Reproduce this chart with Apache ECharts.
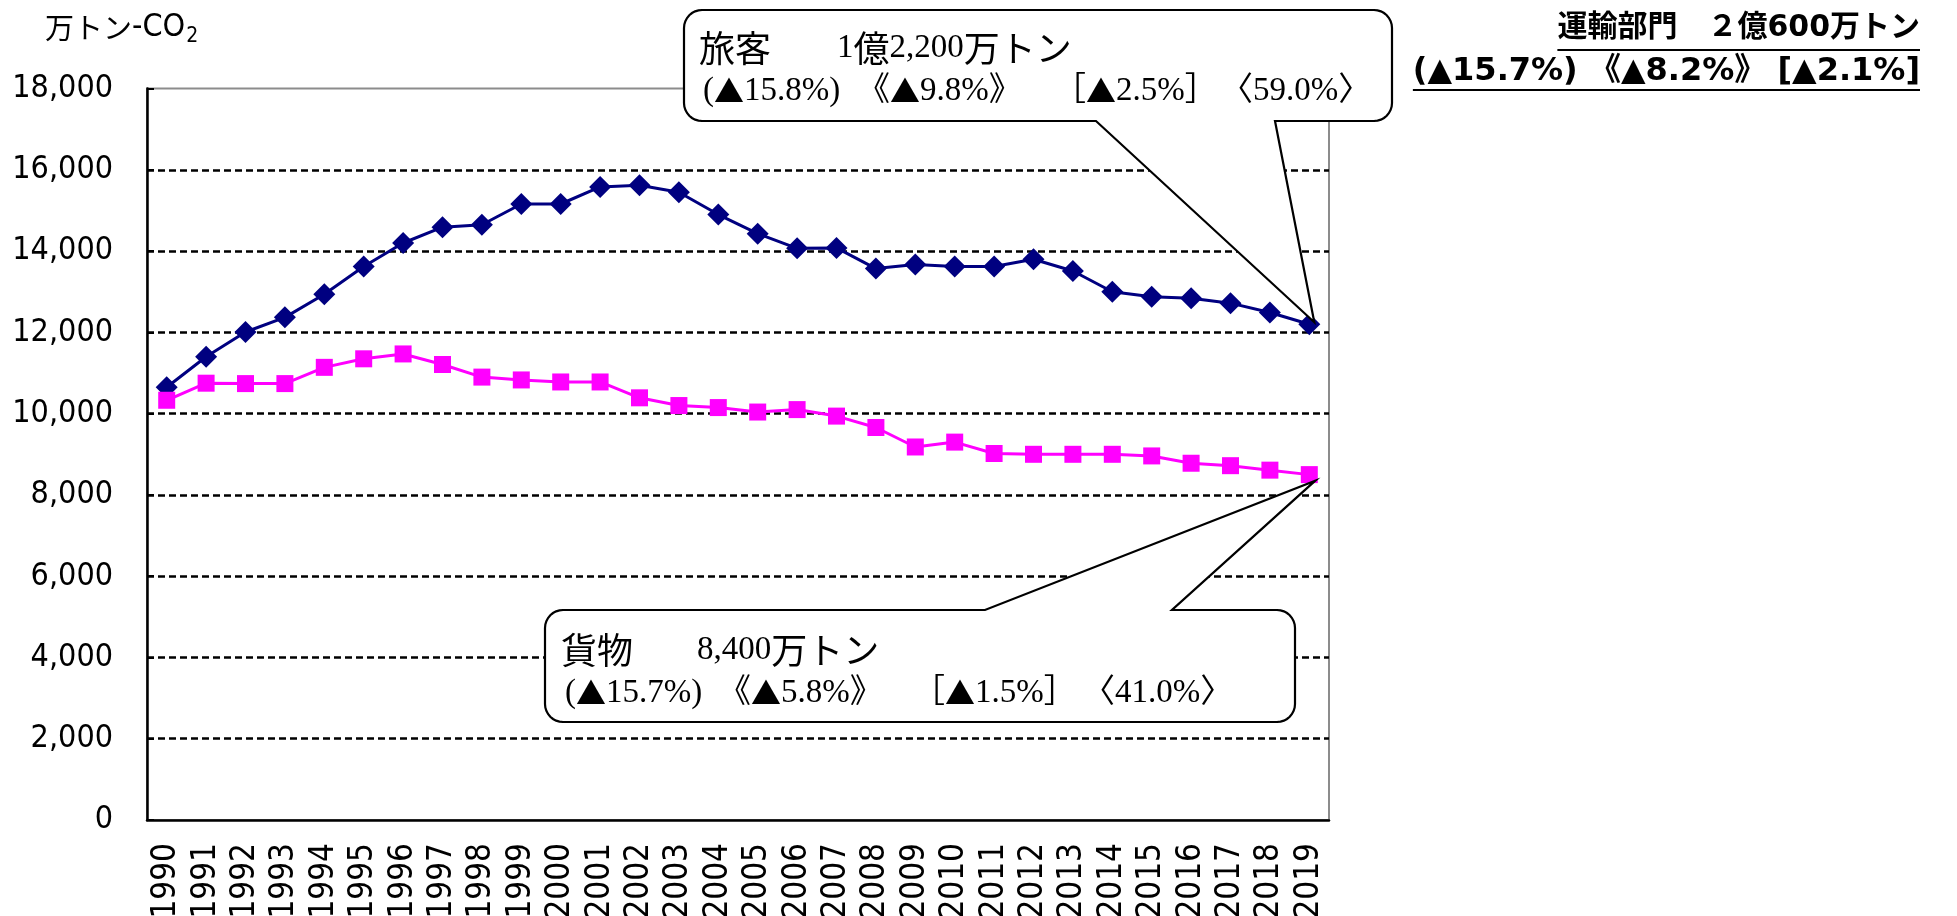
<!DOCTYPE html>
<html><head><meta charset="utf-8">
<script src="https://cdn.jsdelivr.net/npm/echarts@6/dist/echarts.min.js"></script>
<style>html,body{margin:0;padding:0;background:#fff}#c{width:1957px;height:916px}</style>
</head><body><div id="c"></div>
<script>
const years = ['1990','1991','1992','1993','1994','1995','1996','1997','1998','1999','2000','2001','2002','2003','2004','2005','2006','2007','2008','2009','2010','2011','2012','2013','2014','2015','2016','2017','2018','2019'];
const passenger = [10650,11400,12010,12370,12940,13620,14200,14590,14650,15160,15160,15580,15620,15450,14900,14430,14070,14080,13570,13670,13620,13620,13800,13510,13000,12880,12840,12720,12490,12200];
const freight = [10330,10750,10740,10740,11140,11350,11470,11210,10900,10830,10780,10780,10390,10200,10150,10040,10100,9940,9660,9180,9300,9020,9000,9000,9000,8960,8780,8720,8610,8500];
const passengerName = '旅客';
const freightName = '貨物';
const yAxisUnit = ['万トン', '-CO', '2'];
const titleLines = ['運輸部門　２億600万トン', '(▲15.7%) 《▲8.2%》 [▲2.1%]'];
const passengerCallout = [['旅客', '1億2,200万トン'], ['(▲15.8%)', '《▲9.8%》', '［▲2.5%］', '〈59.0%〉']];
const freightCallout = [['貨物', '8,400万トン'], ['(▲15.7%)', '《▲5.8%》', '［▲1.5%］', '〈41.0%〉']];

const cond = "'DejaVu Sans Condensed','DejaVu Sans'";
const chart = echarts.init(document.getElementById('c'));
const option = {
  animation: false,
  backgroundColor: '#fff',
  grid: {left: 147, right: 628, top: 88.6, bottom: 96, containLabel: false, outerBoundsMode: 'none',
         show: true, borderColor: '#8c8c8c', borderWidth: 2, backgroundColor: 'transparent'},
  xAxis: {
    type: 'category', data: years, boundaryGap: true,
    axisLine: {lineStyle: {color: '#000', width: 2.5}},
    axisTick: {inside: true, length: 11, lineStyle: {color: '#000', width: 2}},
    axisLabel: {rotate: 90, interval: 0, fontSize: 33, fontFamily: cond, color: '#000', margin: 23},
    splitLine: {show: false}
  },
  yAxis: {
    type: 'value', min: 0, max: 18000, interval: 2000,
    axisLine: {show: true, lineStyle: {color: '#000', width: 2.5}},
    axisTick: {show: true, inside: true, length: 7, lineStyle: {color: '#000', width: 2}},
    axisLabel: {fontSize: 32, fontFamily: cond, color: '#000', margin: 34,
      formatter: v => v.toLocaleString('en-US')},
    splitLine: {show: true, showMaxLine: false, showMinLine: false, lineStyle: {color: '#000', type: [7, 4], width: 2.5}}
  },
  series: [
    {name: passengerName, type: 'line', data: passenger, symbol: 'diamond', symbolSize: 22,
     itemStyle: {color: '#000080'}, lineStyle: {color: '#000080', width: 3}, z: 3},
    {name: freightName, type: 'line', data: freight, symbol: 'rect', symbolSize: 17,
     itemStyle: {color: '#ff00ff'}, lineStyle: {color: '#ff00ff', width: 3}, z: 3}
  ]
};
chart.setOption(option);

function measure(str, font) {
  const ctx = document.createElement('canvas').getContext('2d');
  ctx.font = font; return ctx.measureText(str).width;
}

const tipP = chart.convertToPixel({gridIndex: 0}, [years[years.length - 1], passenger[passenger.length - 1]]);
const tipF = chart.convertToPixel({gridIndex: 0}, [years[years.length - 1], freight[freight.length - 1]]);

function arc(pts, cx, cy, r, a0, a1) {
  const n = 8;
  for (let i = 0; i <= n; i++) {
    const a = a0 + (a1 - a0) * i / n;
    pts.push([cx + r * Math.cos(a), cy + r * Math.sin(a)]);
  }
}
function bubble(L, T, R, B, r, side, x1, x2, tx, ty) {
  const P = Math.PI, pts = [];
  arc(pts, L + r, T + r, r, P, 1.5 * P);
  if (side === 'top') { pts.push([x1, T]); pts.push([tx, ty]); pts.push([x2, T]); }
  arc(pts, R - r, T + r, r, 1.5 * P, 2 * P);
  arc(pts, R - r, B - r, r, 0, 0.5 * P);
  if (side === 'bottom') { pts.push([x2, B]); pts.push([tx, ty]); pts.push([x1, B]); }
  arc(pts, L + r, B - r, r, 0.5 * P, P);
  return pts;
}

const cFont = "'Liberation Serif','Noto Sans CJK JP'";
function richify(str) {
  const out = [];
  let cur = '', curT = null;
  for (const ch of str) {
    const t = ch === '▲' ? 't' : (/[\u3040-\u30ff\u4e00-\u9fff]/.test(ch) ? 'k' : 'n');
    if (t !== curT && cur) { out.push(`{${curT}|${cur}}`); cur = ''; }
    curT = t; cur += ch;
  }
  if (cur) out.push(`{${curT}|${cur}}`);
  return out.join('');
}
function ctext(str, x, y) {
  return {type: 'text', x: x, y: y, z: 21, style: {
    text: richify(str), verticalAlign: 'middle', textVerticalAlign: 'middle',
    rich: {n: {fontSize: 33, fontFamily: cFont, color: '#000', fill: '#000'},
           k: {fontSize: 36, fontFamily: "'Noto Sans CJK JP'", color: '#000', fill: '#000'},
           t: {fontSize: 30, fontFamily: "'Noto Sans CJK JP'", color: '#000', fill: '#000'}}}};
}

const tFont1 = "bold 30px 'DejaVu Sans','Noto Sans CJK JP'";
const tFont2 = "bold 32px 'DejaVu Sans','Noto Sans CJK JP'";
const tRight = 1920;
const w1 = measure(titleLines[0], tFont1);
const w2 = measure(titleLines[1], tFont2);

const graphics = [
  {type: 'text', x: 45, y: 28, z: 20, style: {
    text: `{a|${yAxisUnit[0]}}{c|${yAxisUnit[1]}}{b|${yAxisUnit[2]}}`, verticalAlign: 'middle', textVerticalAlign: 'middle',
    rich: {a: {fontSize: 29, fontFamily: "'Noto Sans CJK JP'", fill: '#000', color: '#000'},
           c: {fontSize: 32, fontFamily: cond, fill: '#000', color: '#000'},
           b: {fontSize: 21, fontFamily: cond, color: '#000', fill: '#000', padding: [17, 0, 0, 1]}}}},
  {type: 'polygon', z: 20, shape: {points: bubble(684, 10, 1392, 121, 18, 'bottom', 1096, 1275, tipP[0] + 5, tipP[1] - 2)},
   style: {fill: '#fff', stroke: '#000', lineWidth: 2.2}},
  {type: 'polygon', z: 20, shape: {points: bubble(545, 610, 1295, 722, 18, 'top', 985, 1172, tipF[0] + 6, tipF[1] + 6)},
   style: {fill: '#fff', stroke: '#000', lineWidth: 2.2}},
  ctext(passengerCallout[0][0], 699, 48), ctext(passengerCallout[0][1], 837, 48),
  ctext(passengerCallout[1][0], 703, 91), ctext(passengerCallout[1][1], 857, 91),
  ctext(passengerCallout[1][2], 1053, 91), ctext(passengerCallout[1][3], 1220, 91),
  ctext(freightCallout[0][0], 561, 650), ctext(freightCallout[0][1], 697, 650),
  ctext(freightCallout[1][0], 565, 693), ctext(freightCallout[1][1], 718, 693),
  ctext(freightCallout[1][2], 912, 693), ctext(freightCallout[1][3], 1082, 693),
  {type: 'text', x: tRight, y: 28, z: 20, style: {text: titleLines[0], font: tFont1, fill: '#000', align: 'right', textAlign: 'right', verticalAlign: 'middle', textVerticalAlign: 'middle'}},
  {type: 'text', x: tRight, y: 72, z: 20, style: {text: titleLines[1], font: tFont2, fill: '#000', align: 'right', textAlign: 'right', verticalAlign: 'middle', textVerticalAlign: 'middle'}},
  {type: 'line', z: 20, shape: {x1: tRight - w1, y1: 50, x2: tRight, y2: 50}, style: {stroke: '#000', lineWidth: 2}},
  {type: 'line', z: 20, shape: {x1: tRight - w2, y1: 90, x2: tRight, y2: 90}, style: {stroke: '#000', lineWidth: 2}}
];
chart.setOption({graphic: graphics});
</script></body></html>
